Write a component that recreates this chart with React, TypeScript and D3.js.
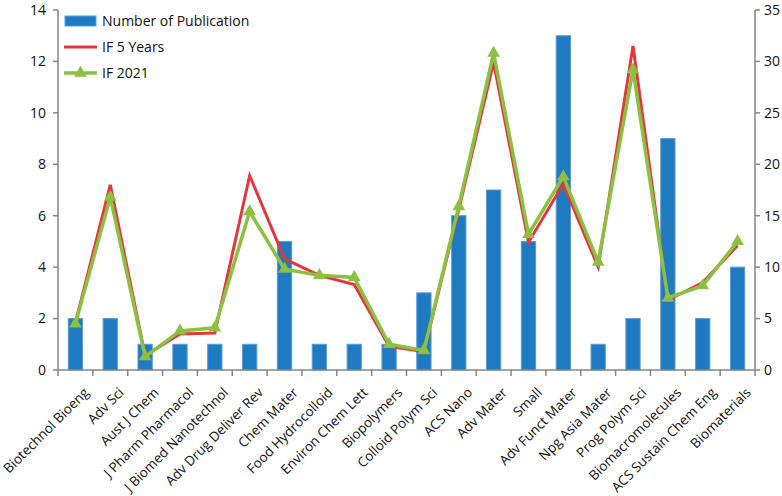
import React from 'react';
import * as d3 from 'd3';

const journals = [
  'Biotechnol Bioeng',
  'Adv Sci',
  'Aust J Chem',
  'J Pharm Pharmacol',
  'J Biomed Nanotechnol',
  'Adv Drug Deliver Rev',
  'Chem Mater',
  'Food Hydrocolloid',
  'Environ Chem Lett',
  'Biopolymers',
  'Colloid Polym Sci',
  'ACS Nano',
  'Adv Mater',
  'Small',
  'Adv Funct Mater',
  'Npg Asia Mater',
  'Prog Polym Sci',
  'Biomacromolecules',
  'ACS Sustain Chem Eng',
  'Biomaterials',
];

const publications = [2, 2, 1, 1, 1, 1, 5, 1, 1, 1, 3, 6, 7, 5, 13, 1, 2, 9, 2, 4];

const if5Years = [4.6, 18.0, 1.4, 3.5, 3.6, 18.9, 10.8, 9.2, 8.3, 2.3, 1.8, 15.6, 29.9, 12.4, 18.1, 10.0, 31.5, 6.8, 8.5, 12.1];

const if2021 = [4.5, 16.8, 1.3, 3.8, 4.1, 15.4, 9.8, 9.2, 9.0, 2.5, 1.9, 15.9, 30.8, 13.2, 18.8, 10.5, 29.2, 7.0, 8.2, 12.5];

const leftTicks = [0, 2, 4, 6, 8, 10, 12, 14];
const rightTicks = [0, 5, 10, 15, 20, 25, 30, 35];

const W = 782;
const H = 496;
const margin = { left: 58, right: 27, top: 10, bottom: 126 };

const BLUE = '#1f7bc1';
const BLUE_EDGE = '#5a9bd5';
const RED = '#e0383e';
const GREEN = '#8cc043';
const AXIS = '#868686';
const FONT = '"Open Sans", "Noto Sans", sans-serif';

export default function App() {
  const x = d3
    .scaleBand<string>()
    .domain(journals)
    .range([margin.left, W - margin.right]);

  const yLeft = d3
    .scaleLinear()
    .domain([0, 14])
    .range([H - margin.bottom, margin.top]);

  const yRight = d3
    .scaleLinear()
    .domain([0, 35])
    .range([H - margin.bottom, margin.top]);

  const cx = (j: string) => (x(j) ?? 0) + x.bandwidth() / 2;
  const barW = x.bandwidth() * 0.41;

  const line = d3
    .line<number>()
    .x((_, i) => cx(journals[i]))
    .y((d) => yRight(d));

  const tri = d3.symbol().type(d3.symbolTriangle).size(70)() as string;

  const baseY = yLeft(0);
  const xL = margin.left;
  const xR = W - margin.right;

  return (
    <svg
      width={W}
      height={H}
      style={{ position: 'absolute', left: 0, top: 0, background: '#fff' }}
      fontFamily={FONT}
    >
      {/* bars */}
      {journals.map((j, i) => (
        <rect
          key={j}
          x={cx(j) - barW / 2}
          y={yLeft(publications[i])}
          width={barW}
          height={baseY - yLeft(publications[i])}
          fill={BLUE}
          stroke={BLUE_EDGE}
          strokeWidth={1}
        />
      ))}

      {/* IF 5 Years */}
      <path d={line(if5Years) ?? ''} fill="none" stroke={RED} strokeWidth={3} strokeLinejoin="miter" />

      {/* IF 2021 */}
      <path d={line(if2021) ?? ''} fill="none" stroke={GREEN} strokeWidth={3.5} strokeLinejoin="miter" />
      {if2021.map((v, i) => (
        <path key={i} d={tri} transform={`translate(${cx(journals[i])},${yRight(v)})`} fill={GREEN} />
      ))}

      {/* left axis */}
      <line x1={xL} x2={xL} y1={margin.top} y2={baseY} stroke={AXIS} strokeWidth={1.5} />
      {leftTicks.map((t) => (
        <g key={t} transform={`translate(0,${yLeft(t)})`}>
          <line x1={xL - 5} x2={xL} stroke={AXIS} strokeWidth={1.5} />
          <text x={xL - 12} dy="0.35em" textAnchor="end" fontSize={14} fill="#111">
            {t}
          </text>
        </g>
      ))}

      {/* right axis */}
      <line x1={xR} x2={xR} y1={margin.top} y2={baseY} stroke={AXIS} strokeWidth={1.5} />
      {rightTicks.map((t) => (
        <g key={t} transform={`translate(0,${yRight(t)})`}>
          <line x1={xR} x2={xR + 5} stroke={AXIS} strokeWidth={1.5} />
          <text x={xR + 9} dy="0.35em" textAnchor="start" fontSize={14} fill="#111">
            {t}
          </text>
        </g>
      ))}

      {/* x axis */}
      <line x1={xL} x2={xR} y1={baseY} y2={baseY} stroke={AXIS} strokeWidth={1.5} />
      {journals.map((j) => (
        <line key={j} x1={x(j)} x2={x(j)} y1={baseY} y2={baseY + 6} stroke={AXIS} strokeWidth={1.5} />
      ))}
      <line x1={xR} x2={xR} y1={baseY} y2={baseY + 6} stroke={AXIS} strokeWidth={1.5} />
      {journals.map((j) => (
        <text
          key={j}
          transform={`translate(${cx(j) + 11},${baseY + 20}) rotate(-45)`}
          textAnchor="end"
          dy="0.35em"
          fontSize={13.5}
          fill="#111"
        >
          {j}
        </text>
      ))}

      {/* legend */}
      <g fontSize={14} fill="#111">
        <rect x={65} y={16} width={31} height={10} fill={BLUE} stroke={BLUE_EDGE} />
        <text x={102} y={21} dy="0.35em">Number of Publication</text>
        <line x1={64} x2={97} y1={47} y2={47} stroke={RED} strokeWidth={3} />
        <text x={102} y={47} dy="0.35em">IF 5 Years</text>
        <line x1={64} x2={97} y1={73} y2={73} stroke={GREEN} strokeWidth={3.5} />
        <path d={tri} transform="translate(80.5,73)" fill={GREEN} />
        <text x={102} y={73} dy="0.35em">IF 2021</text>
      </g>
    </svg>
  );
}
